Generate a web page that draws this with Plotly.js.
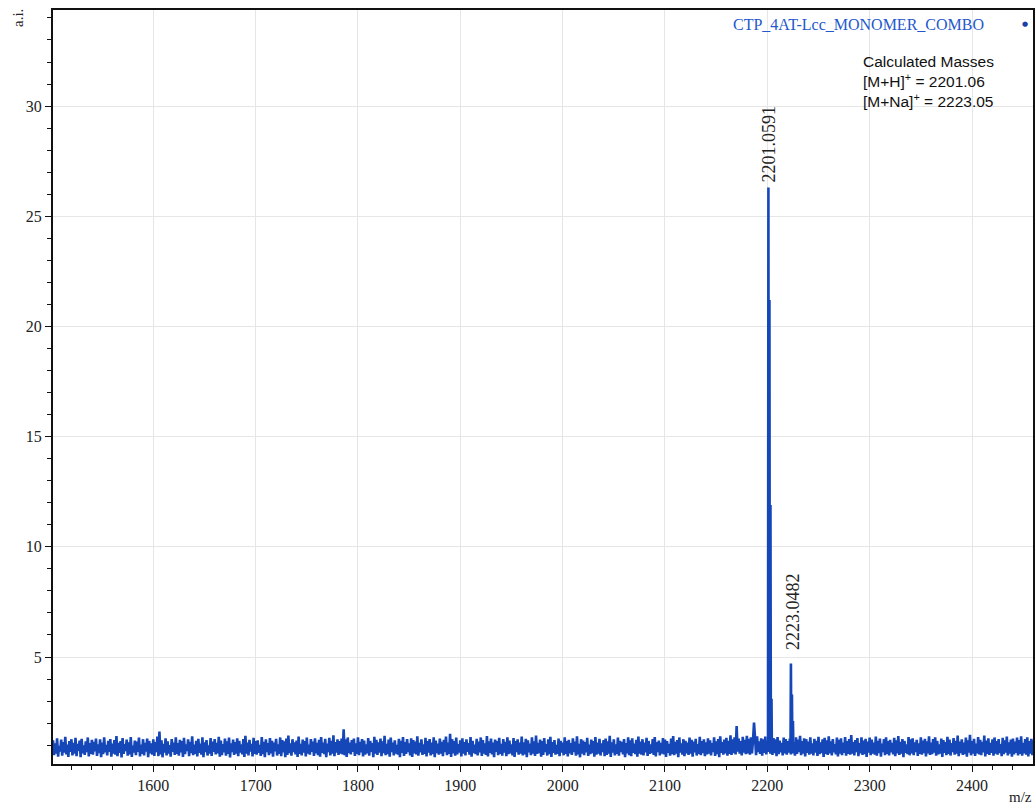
<!DOCTYPE html>
<html>
<head>
<meta charset="utf-8">
<script src="https://cdn.plot.ly/plotly-3.0.1.min.js"></script>
<style>html,body{margin:0;padding:0;background:#fff;}#chart{width:1035px;height:807px;}</style>
</head>
<body>
<div id="chart"></div>
<script>
// Spectrum baseline: intensity (a.i.) sampled every 1 m/z starting at 1502
const mzStart = 1502;
const mzStep = 1;
const baseline = [
1.22,0.55,1.08,0.62,1.31,0.48,0.97,0.71,1.25,0.52,1.14,0.66,1.38,0.58,1.02,0.47,1.19,0.69,1.27,0.53,
1.11,0.61,1.33,0.50,1.06,0.74,1.21,0.45,1.29,0.63,0.99,0.56,1.17,0.68,1.35,0.49,1.09,0.60,1.24,0.57,
1.15,0.72,1.30,0.51,1.04,0.64,1.26,0.46,1.12,0.59,1.36,0.67,1.01,0.54,1.20,0.70,1.28,0.48,1.07,0.62,
1.23,0.57,1.41,0.50,1.10,0.65,1.18,0.44,1.32,0.61,1.05,0.73,1.25,0.52,1.13,0.58,1.37,0.47,0.98,0.66,
1.21,0.55,1.16,0.69,1.34,0.49,1.03,0.60,1.27,0.53,1.11,0.71,1.30,0.46,1.19,0.63,1.08,0.57,1.26,0.51,
1.14,0.68,1.39,0.50,1.62,0.58,1.22,0.45,1.06,0.66,1.31,0.54,1.17,0.62,1.00,0.48,1.28,0.70,1.12,0.56,
1.35,0.60,1.09,0.52,1.24,0.67,1.18,0.47,1.33,0.59,1.04,0.73,1.26,0.50,1.15,0.64,1.40,0.55,1.02,0.61,
1.20,0.49,1.29,0.65,1.07,0.57,1.36,0.46,1.13,0.68,1.23,0.53,0.99,0.62,1.32,0.51,1.16,0.70,1.27,0.58,
1.10,0.63,1.38,0.48,1.21,0.55,1.05,0.67,1.30,0.52,1.17,0.60,1.34,0.44,1.08,0.69,1.25,0.56,1.14,0.61,
1.31,0.50,1.19,0.66,1.03,0.58,1.28,0.47,1.42,0.62,1.11,0.54,1.24,0.71,1.06,0.49,1.33,0.60,1.18,0.57,
1.22,0.65,1.01,0.51,1.37,0.59,1.15,0.46,1.26,0.68,1.09,0.55,1.32,0.63,1.20,0.48,1.12,0.72,1.29,0.53,
1.04,0.61,1.35,0.50,1.23,0.67,1.17,0.45,1.30,0.56,1.44,0.64,1.08,0.52,1.27,0.69,1.13,0.58,1.21,0.47,
1.39,0.60,1.06,0.54,1.25,0.66,1.19,0.49,1.34,0.62,1.02,0.57,1.28,0.70,1.16,0.51,1.31,0.63,1.10,0.55,
1.24,0.48,1.37,0.65,1.12,0.59,1.29,0.46,1.07,0.68,1.33,0.53,1.20,0.61,1.45,0.50,1.14,0.66,1.26,0.56,
1.18,0.62,1.30,0.58,1.72,0.54,1.27,0.47,1.35,0.64,1.11,0.58,1.23,0.69,1.30,0.51,1.08,0.60,1.36,0.55,
1.15,0.67,1.28,0.49,1.21,0.57,1.04,0.63,1.32,0.52,1.19,0.70,1.09,0.45,1.38,0.61,1.24,0.56,1.13,0.66,
1.30,0.50,1.17,0.64,1.42,0.55,1.06,0.59,1.25,0.48,1.34,0.68,1.12,0.53,1.22,0.62,1.01,0.57,1.29,0.46,
1.20,0.65,1.37,0.51,1.14,0.60,1.27,0.69,1.08,0.54,1.31,0.47,1.23,0.63,1.16,0.58,1.40,0.52,1.10,0.67,
1.26,0.56,1.03,0.61,1.33,0.49,1.19,0.66,1.28,0.53,1.12,0.59,1.36,0.45,1.21,0.64,1.07,0.57,1.30,0.62,
1.15,0.50,1.24,0.68,1.39,0.55,1.11,0.60,1.52,0.47,1.27,0.63,1.18,0.52,1.34,0.58,1.05,0.66,1.22,0.49,
1.31,0.61,1.14,0.54,1.26,0.70,1.09,0.57,1.37,0.48,1.20,0.64,1.02,0.59,1.29,0.53,1.16,0.67,1.35,0.51,
1.23,0.62,1.08,0.56,1.41,0.49,1.17,0.65,1.30,0.58,1.12,0.46,1.25,0.69,1.19,0.55,1.33,0.60,1.06,0.52,
1.28,0.66,1.15,0.50,1.36,0.59,1.21,0.63,1.04,0.54,1.32,0.47,1.18,0.68,1.26,0.57,1.11,0.61,1.39,0.53,
1.13,0.58,1.29,0.45,1.22,0.67,1.07,0.55,1.35,0.62,1.17,0.51,1.43,0.60,1.10,0.64,1.25,0.48,1.19,0.56,
1.32,0.69,1.05,0.53,1.27,0.59,1.38,0.47,1.14,0.65,1.23,0.57,1.01,0.61,1.30,0.50,1.20,0.66,1.12,0.54,
1.36,0.60,1.18,0.49,1.24,0.63,1.09,0.56,1.31,0.68,1.16,0.52,1.40,0.58,1.06,0.45,1.27,0.62,1.21,0.55,
1.14,0.67,1.33,0.51,1.02,0.59,1.25,0.64,1.19,0.48,1.37,0.57,1.11,0.62,1.29,0.53,1.08,0.69,1.23,0.50,
1.30,0.56,1.17,0.61,1.42,0.47,1.13,0.66,1.26,0.54,1.04,0.60,1.34,0.52,1.20,0.68,1.15,0.58,1.28,0.46,
1.09,0.63,1.35,0.55,1.22,0.50,1.31,0.65,1.07,0.59,1.24,0.48,1.39,0.62,1.16,0.57,1.27,0.53,1.12,0.67,
1.33,0.51,1.19,0.60,1.03,0.64,1.28,0.56,1.37,0.49,1.14,0.68,1.21,0.54,1.10,0.61,1.32,0.58,1.25,0.47,
1.18,0.65,1.06,0.52,1.30,0.59,1.41,0.55,1.15,0.62,1.23,0.46,1.35,0.66,1.08,0.57,1.27,0.50,1.20,0.63,
1.12,0.56,1.34,0.61,1.24,0.48,1.16,0.67,1.29,0.53,1.05,0.60,1.38,0.55,1.19,0.64,1.26,0.50,1.13,0.58,
1.31,0.62,1.22,0.54,1.09,0.69,1.36,0.51,1.17,0.59,1.28,0.45,1.40,0.65,1.14,0.57,1.25,0.63,1.33,0.52,
1.20,0.60,1.45,0.56,1.27,0.64,1.35,0.58,1.87,0.70,1.30,0.61,1.18,0.53,1.38,0.66,1.24,0.59,1.42,0.62,
1.29,0.57,1.36,0.63,1.22,2.02,1.33,0.55,1.40,0.68,1.17,0.60,1.31,0.52,1.26,0.65,1.39,0.58,1.20,0.70,
1.24,0.61,1.15,0.56,1.32,0.64,1.27,0.50,1.37,0.59,1.21,0.67,1.10,0.54,1.34,0.62,1.28,0.57,1.18,0.66,
1.30,0.58,1.23,0.63,1.14,0.52,1.36,0.60,1.25,0.68,1.42,0.55,1.19,0.61,1.31,0.49,1.27,0.65,1.16,0.57,
1.35,0.62,1.08,0.54,1.29,0.66,1.20,0.51,1.38,0.59,1.13,0.64,1.26,0.47,1.33,0.60,1.22,0.56,1.40,0.63,
1.17,0.53,1.28,0.67,1.05,0.58,1.34,0.49,1.24,0.62,1.31,0.55,1.11,0.65,1.37,0.52,1.19,0.60,1.27,0.57,
1.46,0.61,1.14,0.54,1.23,0.68,1.32,0.50,1.09,0.63,1.36,0.56,1.21,0.59,1.29,0.47,1.16,0.66,1.34,0.55,
1.25,0.62,1.12,0.57,1.39,0.52,1.20,0.64,1.30,0.48,1.07,0.69,1.27,0.55,1.35,0.60,1.18,0.53,1.24,0.67,
1.10,0.58,1.33,0.50,1.22,0.63,1.41,0.56,1.15,0.61,1.28,0.46,1.19,0.65,1.04,0.59,1.37,0.54,1.26,0.62,
1.31,0.55,1.13,0.68,1.24,0.51,1.08,0.60,1.35,0.57,1.21,0.64,1.29,0.49,1.17,0.63,1.40,0.56,1.12,0.59,
1.27,0.66,1.36,0.52,1.19,0.58,1.03,0.62,1.30,0.47,1.23,0.65,1.14,0.55,1.38,0.60,1.25,0.53,1.09,0.68,
1.32,0.57,1.20,0.61,1.43,0.50,1.16,0.64,1.26,0.56,1.11,0.59,1.34,0.48,1.22,0.66,1.47,0.54,1.18,0.62,
1.29,0.51,1.07,0.63,1.37,0.58,1.24,0.55,1.15,0.67,1.44,0.49,1.21,0.60,1.31,0.56,1.10,0.65,1.26,0.52,
1.35,0.61,1.18,0.57,1.28,0.64,1.05,0.50,1.33,0.59,1.22,0.66,1.39,0.53,1.13,0.62,1.25,0.48,1.30,0.58,
1.16,0.65,1.34,0.54,1.23,0.60,1.40,0.52,1.11,0.63,1.27,0.57,1.36,0.49,1.19,0.61,1.29,0.55,1.21,0.62
];

// Isotope peaks (m/z, intensity a.i.)
const peakMz  = [2201.06, 2202.06, 2203.06, 2204.06, 2223.05, 2224.05, 2225.05];
const peakInt = [26.3, 21.2, 11.9, 3.1, 4.7, 3.3, 2.1];

// Labelled peaks
const labelMz   = [2201.0591, 2223.0482];
const labelInt  = [26.3, 4.7];
const labelText = ["2201.0591", "2223.0482"];

const seriesName = "CTP_4AT-Lcc_MONOMER_COMBO";
const calcLines = ["Calculated Masses", "[M+H]<sup>+</sup> = 2201.06", "[M+Na]<sup>+</sup> = 2223.05"];

const xTicks = [1600, 1700, 1800, 1900, 2000, 2100, 2200, 2300, 2400];
const yTicks = [5, 10, 15, 20, 25, 30];

const blue = '#1547b9';
const serif = 'Liberation Serif, Times New Roman, serif';

const bx = baseline.map((v, i) => mzStart + i * mzStep);

const px = [], py = [];
peakMz.forEach((m, i) => {
  px.push(m - 0.4, m, m + 0.4, null);
  py.push(0.9, peakInt[i], 0.9, null);
});

const traces = [
  {x: bx, y: baseline, type: 'scatter', mode: 'lines', line: {color: blue, width: 2.6}, showlegend: false},
  {x: px, y: py, type: 'scatter', mode: 'lines', line: {color: blue, width: 2.6}, connectgaps: false, showlegend: false}
];

const annotations = [];
labelMz.forEach((m, i) => {
  annotations.push({
    x: m, y: labelInt[i], xref: 'x', yref: 'y', text: labelText[i], showarrow: false,
    textangle: -90, xanchor: 'center', yanchor: 'bottom', yshift: i === 0 ? 3 : 12, xshift: i === 0 ? 1 : 2,
    font: {family: serif, size: 18, color: '#222'}
  });
});
annotations.push({
  x: 0.952, y: 0.9814, xref: 'paper', yref: 'paper', text: seriesName, showarrow: false,
  xanchor: 'right', yanchor: 'middle', font: {family: serif, size: 16, color: '#2457cc'}
});
annotations.push({
  x: 0.9918, y: 0.9814, xref: 'paper', yref: 'paper', text: '●', showarrow: false,
  xanchor: 'center', yanchor: 'middle', font: {family: 'DejaVu Sans', size: 7, color: '#1a3fa8'}
});
annotations.push({
  x: 0.8245, y: 0.946, xref: 'paper', yref: 'paper', text: calcLines.join('<br>'), showarrow: false,
  xanchor: 'left', yanchor: 'top', align: 'left', font: {family: 'Liberation Sans', size: 15.5, color: '#111'}
});
annotations.push({
  x: 0, y: 1, xref: 'paper', yref: 'paper', text: 'a.i.', showarrow: false, textangle: -90,
  xanchor: 'center', yanchor: 'middle', xshift: -35, yshift: -8,
  font: {family: serif, size: 15, color: '#222'}
});
annotations.push({
  x: 1, y: 0, xref: 'paper', yref: 'paper', text: 'm/z', showarrow: false,
  xanchor: 'center', yanchor: 'middle', xshift: -13, yshift: -33,
  font: {family: serif, size: 15, color: '#222'}
});

const layout = {
  width: 1035, height: 807,
  margin: {l: 53, r: 2, t: 10, b: 43},
  paper_bgcolor: '#fff', plot_bgcolor: '#fff',
  font: {family: serif, size: 16, color: '#222'},
  showlegend: false,
  xaxis: {
    range: [1502, 2459.6], tickmode: 'array', tickvals: xTicks, ticktext: xTicks.map(String),
    showgrid: true, gridcolor: '#e6e6e6', gridwidth: 1, zeroline: false,
    showline: true, linecolor: '#111', linewidth: 2, mirror: true,
    ticks: 'outside', ticklen: 6, tickcolor: '#111', tickwidth: 1,
    minor: {dtick: 20, tick0: 1500, ticks: 'outside', ticklen: 4, tickcolor: '#111', showgrid: false},
    tickfont: {family: serif, size: 16, color: '#222'}
  },
  yaxis: {
    range: [0.145, 34.36], tickmode: 'array', tickvals: yTicks, ticktext: yTicks.map(String),
    showgrid: true, gridcolor: '#e6e6e6', gridwidth: 1, zeroline: false,
    showline: true, linecolor: '#111', linewidth: 2, mirror: true,
    ticks: 'outside', ticklen: 6, tickcolor: '#111', tickwidth: 1,
    minor: {dtick: 1, tick0: 0, ticks: 'outside', ticklen: 4, tickcolor: '#111', showgrid: false},
    tickfont: {family: serif, size: 16, color: '#222'}
  },
  annotations: annotations
};

Plotly.newPlot('chart', traces, layout, {displayModeBar: false, staticPlot: true});
</script>
</body>
</html>
